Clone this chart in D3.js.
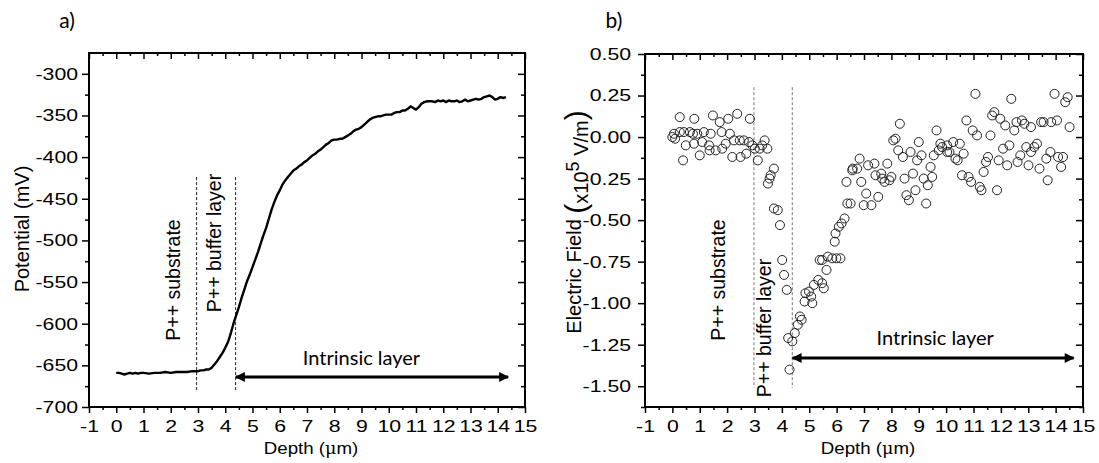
<!DOCTYPE html>
<html>
<head>
<meta charset="utf-8">
<script src="https://cdn.jsdelivr.net/npm/d3@7"></script>
<style>
    body { margin: 0; background: #fff; }
    svg { display: block; }
</style>
</head>
<body>
<script>
    // a) potential profile
    var potentialDepth = [0.0, 0.1, 0.2, 0.3, 0.4, 0.5, 0.6, 0.7, 0.8, 0.9, 1.0, 1.2, 1.4, 1.6, 1.8, 2.0, 2.2, 2.4, 2.6, 2.8,
        3.0, 3.1, 3.2, 3.3, 3.4, 3.5, 3.6, 3.7, 3.8, 3.9, 4.0, 4.1, 4.2, 4.3, 4.4, 4.5, 4.6, 4.7, 4.8, 4.9,
        5.0, 5.1, 5.2, 5.3, 5.4, 5.5, 5.6, 5.7, 5.8, 5.9, 6.0, 6.1, 6.2, 6.3, 6.4, 6.5, 6.6, 6.7, 6.8, 6.9,
        7.0, 7.1, 7.2, 7.3, 7.4, 7.5, 7.6, 7.7, 7.8, 7.9, 8.0, 8.1, 8.2, 8.3, 8.4, 8.5, 8.6, 8.7, 8.8, 8.9,
        9.0, 9.1, 9.2, 9.3, 9.4, 9.5, 9.6, 9.7, 9.8, 9.9, 10.0, 10.1, 10.2, 10.3, 10.4, 10.5, 10.6, 10.7, 10.8, 10.9,
        11.0, 11.1, 11.2, 11.3, 11.4, 11.5, 11.6, 11.7, 11.8, 11.9, 12.0, 12.1, 12.2, 12.3, 12.4, 12.5, 12.6, 12.7, 12.8, 12.9,
        13.0, 13.1, 13.2, 13.3, 13.4, 13.5, 13.6, 13.7, 13.8, 13.9, 14.0, 14.1, 14.2, 14.3];
    var potentialValue = [-659, -659, -660, -661, -660, -659, -660, -659, -660, -659, -659, -660, -659, -659, -658, -659, -658, -658, -658, -657,
        -657, -656, -656, -655, -655, -653, -649, -645, -640, -635, -629, -622, -612, -600, -590, -580, -569, -559, -549, -541,
        -532, -523, -514, -504, -494, -485, -474, -463, -454, -446, -440, -433, -428, -424, -420, -416, -414, -411, -409, -406,
        -404, -401, -398, -396, -393, -391, -388, -385, -383, -380, -379, -379, -378, -378, -376, -374, -372, -369, -367, -366,
        -364, -361, -358, -355, -353, -352, -351, -351, -350, -349, -349, -349, -347, -346, -346, -344, -344, -342, -339, -341,
        -343, -340, -336, -334, -333, -333, -333, -334, -332, -333, -332, -334, -332, -333, -333, -332, -334, -333, -331, -333,
        -332, -331, -330, -331, -330, -328, -327, -326, -328, -331, -330, -328, -329, -328];

    // b) electric field (x10^5 V/m)
    var fieldDepth = [0.00, 0.10, 0.06, 0.27, 0.27, 0.39, 0.42, 0.49, 0.64, 0.75, 0.79, 0.80, 0.91, 1.00, 1.09, 1.15, 1.34, 1.36, 1.40, 1.48,
        1.58, 1.73, 1.80, 1.82, 1.95, 2.04, 2.10, 2.19, 2.25, 2.37, 2.46, 2.49, 2.61, 2.70, 2.80, 2.83, 2.92, 3.01, 3.12, 3.19,
        3.28, 3.37, 3.47, 3.49, 3.55, 3.59, 3.71, 3.71, 3.85, 3.93, 4.01, 4.08, 4.18, 4.23, 4.38, 4.28, 4.47, 4.58, 4.66, 4.72,
        4.83, 4.86, 4.99, 5.07, 5.11, 5.17, 5.33, 5.47, 5.53, 5.63, 5.38, 5.47, 5.68, 5.84, 5.99, 6.14, 5.93, 5.96, 6.08, 6.18,
        6.29, 6.39, 6.51, 6.36, 6.57, 6.84, 6.59, 6.75, 7.15, 7.38, 7.85, 6.90, 7.42, 7.63, 7.66, 7.75, 7.93, 8.00, 7.08, 7.52,
        6.99, 7.27, 8.31, 9.65, 8.15, 8.07, 8.25, 9.00, 8.70, 8.42, 9.10, 8.94, 9.55, 9.73, 9.85, 10.04, 10.04, 8.48, 8.79, 9.18,
        9.49, 9.43, 9.33, 8.55, 8.88, 8.64, 9.27, 11.07, 12.38, 13.96, 14.44, 14.35, 10.74, 11.76, 11.68, 11.98, 12.16, 12.49, 12.57, 12.77,
        12.86, 13.10, 13.47, 13.56, 13.84, 14.05, 14.51, 10.97, 11.13, 11.62, 9.79, 10.26, 10.50, 10.12, 10.64, 10.34, 10.42, 12.08, 12.31, 12.93,
        13.10, 13.32, 13.22, 13.81, 14.09, 14.27, 11.53, 11.46, 11.92, 12.23, 12.71, 12.61, 13.01, 13.41, 13.66, 14.20, 10.58, 10.82, 10.91, 11.23,
        11.29, 11.37, 11.86, 13.71];
    var fieldValue = [0.00, -0.01, 0.02, 0.12, 0.03, -0.14, 0.03, -0.05, 0.03, 0.02, -0.04, 0.11, 0.02, -0.11, -0.03, 0.03, -0.05, -0.08, 0.02, 0.13,
        -0.08, 0.09, 0.03, -0.07, -0.04, 0.11, 0.02, -0.12, -0.02, 0.14, -0.02, -0.12, -0.02, -0.10, -0.03, 0.11, -0.05, -0.07, -0.14, -0.07,
        -0.05, -0.02, -0.07, -0.28, -0.25, -0.23, -0.19, -0.43, -0.44, -0.53, -0.74, -0.83, -0.92, -1.21, -1.23, -1.40, -1.18, -1.13, -1.08, -1.10,
        -0.99, -0.94, -0.93, -0.96, -1.00, -0.89, -0.86, -0.88, -0.91, -0.80, -0.74, -0.74, -0.72, -0.73, -0.73, -0.73, -0.63, -0.58, -0.54, -0.52,
        -0.49, -0.40, -0.40, -0.27, -0.20, -0.13, -0.19, -0.19, -0.17, -0.16, -0.16, -0.27, -0.23, -0.22, -0.25, -0.27, -0.26, -0.24, -0.34, -0.36,
        -0.41, -0.41, 0.08, 0.04, -0.01, -0.02, -0.08, -0.03, -0.09, -0.12, -0.11, -0.14, -0.11, -0.08, -0.06, -0.05, -0.09, -0.25, -0.22, -0.25,
        -0.24, -0.18, -0.29, -0.35, -0.32, -0.38, -0.40, 0.26, 0.23, 0.26, 0.24, 0.21, 0.10, 0.15, 0.13, 0.11, 0.07, 0.04, 0.09, 0.10,
        0.08, 0.06, 0.09, 0.09, 0.09, 0.10, 0.06, 0.04, 0.01, 0.01, -0.04, -0.03, -0.04, -0.09, -0.10, -0.13, -0.14, -0.07, -0.05, -0.06,
        -0.09, -0.04, -0.06, -0.09, -0.12, -0.12, -0.12, -0.15, -0.14, -0.17, -0.11, -0.15, -0.17, -0.19, -0.13, -0.18, -0.23, -0.24, -0.27, -0.30,
        -0.32, -0.21, -0.32, -0.26];

    // ticks and region boundaries
    var depthTicks = [-1, 0, 1, 2, 3, 4, 5, 6, 7, 8, 9, 10, 11, 12, 13, 14, 15];
    var depthMinor = [-0.5, 0.5, 1.5, 2.5, 3.5, 4.5, 5.5, 6.5, 7.5, 8.5, 9.5, 10.5, 11.5, 12.5, 13.5, 14.5];
    var potentialTicks = [-700, -650, -600, -550, -500, -450, -400, -350, -300];
    var potentialMinor = [-675, -625, -575, -525, -475, -425, -375, -325];
    var fieldTicks = [-1.50, -1.25, -1.00, -0.75, -0.50, -0.25, 0.00, 0.25, 0.50];
    var fieldMinor = [-1.625, -1.375, -1.125, -0.875, -0.625, -0.375, -0.125, 0.125, 0.375];
    var boundariesA = [2.95, 4.38];
    var boundariesB = [2.98, 4.38];

    var W = 1099, H = 463;
    var tickFont = "'Liberation Sans', Arial, sans-serif";
    var noteFont = "Lato, 'Open Sans', sans-serif";
    var stretch = 1.25;

    var svg = d3.select("body").append("svg")
        .attr("width", W)
        .attr("height", H);

    svg.append("defs").append("marker")
        .attr("id", "head")
        .attr("viewBox", "0 0 10 10")
        .attr("refX", 9)
        .attr("refY", 5)
        .attr("markerWidth", 11)
        .attr("markerHeight", 10)
        .attr("markerUnits", "userSpaceOnUse")
        .attr("orient", "auto-start-reverse")
        .append("path")
        .attr("d", "M0,0L10,5L0,10Z")
        .attr("fill", "#000");

    var xA = d3.scaleLinear().domain([-1, 15]).range([89, 525]);
    var yA = d3.scaleLinear().domain([-700, -275]).range([407, 53]);
    var xB = d3.scaleLinear().domain([-1, 15]).range([645, 1083]);
    var yB = d3.scaleLinear().domain([-1.625, 0.5]).range([407, 54]);

    function drawFrame(x, y, yTicks, yMinor, yFormat, labelGap) {
        var l = x.range()[0], r = x.range()[1], b = y.range()[0], t = y.range()[1];
        var g = svg.append("g");

        var bottom = g.append("g").attr("transform", "translate(0," + b + ")")
            .call(d3.axisBottom(x).tickValues(depthTicks).tickSize(6).tickFormat(d => String(d)));
        g.append("g").attr("transform", "translate(0," + b + ")")
            .call(d3.axisBottom(x).tickValues(depthMinor).tickSize(3).tickFormat(""));
        g.append("g").attr("transform", "translate(0," + t + ")")
            .call(d3.axisTop(x).tickValues(depthTicks).tickSize(-6).tickFormat(""));
        g.append("g").attr("transform", "translate(0," + t + ")")
            .call(d3.axisTop(x).tickValues(depthMinor).tickSize(-3).tickFormat(""));

        var left = g.append("g").attr("transform", "translate(" + l + ",0)")
            .call(d3.axisLeft(y).tickValues(yTicks).tickSize(7).tickFormat(yFormat));
        g.append("g").attr("transform", "translate(" + l + ",0)")
            .call(d3.axisLeft(y).tickValues(yMinor).tickSize(4).tickFormat(""));
        g.append("g").attr("transform", "translate(" + r + ",0)")
            .call(d3.axisRight(y).tickValues(yTicks).tickSize(-7).tickFormat(""));
        g.append("g").attr("transform", "translate(" + r + ",0)")
            .call(d3.axisRight(y).tickValues(yMinor).tickSize(-4).tickFormat(""));

        g.selectAll(".domain").remove();
        g.selectAll(".tick line").attr("stroke", "#000").attr("stroke-width", 1.5);
        g.selectAll("text")
            .attr("fill", "#000")
            .style("font-family", tickFont)
            .style("font-size", "17px");
        bottom.selectAll("text")
            .attr("y", 13)
            .attr("transform", "scale(" + stretch + ",1)");
        left.selectAll("text")
            .attr("x", -labelGap / stretch)
            .attr("transform", "scale(" + stretch + ",1)");

        g.append("rect")
            .attr("x", l).attr("y", t)
            .attr("width", r - l).attr("height", b - t)
            .attr("fill", "none")
            .attr("stroke", "#000")
            .attr("stroke-width", 2);
        return g;
    }

    function vText(x, y, str, size) {
        return svg.append("text")
            .attr("transform", "translate(" + x + "," + y + ") rotate(-90)")
            .attr("text-anchor", "middle")
            .style("font-family", tickFont)
            .style("font-size", size + "px")
            .text(str);
    }

    function hText(x, y, str, size, font) {
        return svg.append("text")
            .attr("x", x).attr("y", y)
            .attr("text-anchor", "middle")
            .style("font-family", font)
            .style("font-size", size + "px")
            .text(str);
    }

    function depthLabel(x) {
        var t = svg.append("text")
            .attr("transform", "translate(" + ((x.range()[0] + x.range()[1]) / 2 + 4) + ",454) scale(1.1,1)")
            .attr("text-anchor", "middle")
            .style("font-family", tickFont)
            .style("font-size", "17px");
        t.append("tspan").text("Depth  (");
        t.append("tspan").text("\u03bc").style("font-family", "'DejaVu Serif', serif").style("font-size", "16px");
        t.append("tspan").text("m)");
    }

    // ---------- panel a ----------
    drawFrame(xA, yA, potentialTicks, potentialMinor, d => String(d), 11);

    svg.append("g").selectAll("line")
        .data(boundariesA)
        .enter()
        .append("line")
        .attr("x1", d => xA(d)).attr("x2", d => xA(d))
        .attr("y1", yA(-424)).attr("y2", yA(-680))
        .attr("stroke", "#222")
        .attr("stroke-width", 1)
        .attr("stroke-dasharray", "3,2");

    svg.append("path")
        .datum(potentialDepth.map((d, i) => [d, potentialValue[i]]))
        .attr("fill", "none")
        .attr("stroke", "#000")
        .attr("stroke-width", 2.4)
        .attr("stroke-linejoin", "round")
        .attr("d", d3.line().x(d => xA(d[0])).y(d => yA(d[1])));

    svg.append("line")
        .attr("x1", xA(4.39)).attr("x2", xA(14.38))
        .attr("y1", yA(-664)).attr("y2", yA(-664))
        .attr("stroke", "#000")
        .attr("stroke-width", 3)
        .attr("marker-start", "url(#head)")
        .attr("marker-end", "url(#head)");

    hText(xA(9.0), yA(-664) - 12, "Intrinsic layer", 20, noteFont);
    vText(xA(boundariesA[0]) - 17, 280, "P++ substrate", 19.5);
    vText(xA(boundariesA[1]) - 15, 243, "P++ buffer layer", 19.5);
    vText(29, 229, "Potential (mV)", 20);
    depthLabel(xA);
    hText(67, 28, "a)", 21, noteFont);

    // ---------- panel b ----------
    drawFrame(xB, yB, fieldTicks, fieldMinor, d => d.toFixed(2), 14);

    svg.append("g").selectAll("line")
        .data(boundariesB)
        .enter()
        .append("line")
        .attr("x1", d => xB(d)).attr("x2", d => xB(d))
        .attr("y1", yB(0.30)).attr("y2", yB(-1.51))
        .attr("stroke", "#777")
        .attr("stroke-width", 1)
        .attr("stroke-dasharray", "3,2");

    svg.append("g").selectAll("circle")
        .data(fieldDepth.map((d, i) => [d, fieldValue[i]]))
        .enter()
        .append("circle")
        .attr("cx", d => xB(d[0]))
        .attr("cy", d => yB(d[1]))
        .attr("r", 4.5)
        .attr("fill", "none")
        .attr("stroke", "#222")
        .attr("stroke-width", 1);

    svg.append("line")
        .attr("x1", xB(4.39)).attr("x2", xB(14.66))
        .attr("y1", yB(-1.33)).attr("y2", yB(-1.33))
        .attr("stroke", "#000")
        .attr("stroke-width", 3)
        .attr("marker-start", "url(#head)")
        .attr("marker-end", "url(#head)");

    hText(xB(9.6), yB(-1.33) - 13, "Intrinsic layer", 20, noteFont);
    vText(xB(boundariesB[0]) - 29, 280, "P++ substrate", 19.5);
    vText(xB(boundariesB[1]) - 21, 328, "P++ buffer layer", 19.5);
    depthLabel(xB);
    hText(614, 28, "b)", 21, noteFont);

    var ef = svg.append("text")
        .attr("transform", "translate(581,222) rotate(-90)")
        .attr("text-anchor", "middle")
        .style("font-family", tickFont)
        .style("font-size", "20px");
    ef.append("tspan").text("Electric Field ");
    ef.append("tspan").attr("dy", 5).style("font-size", "30px").text("(");
    ef.append("tspan").attr("dy", 2).text("x10");
    ef.append("tspan").attr("dy", -9).style("font-size", "18px").text("5");
    ef.append("tspan").attr("dy", 9).text(" V/m");
    ef.append("tspan").attr("dy", -2).style("font-size", "30px").text(")");
</script>
</body>
</html>
